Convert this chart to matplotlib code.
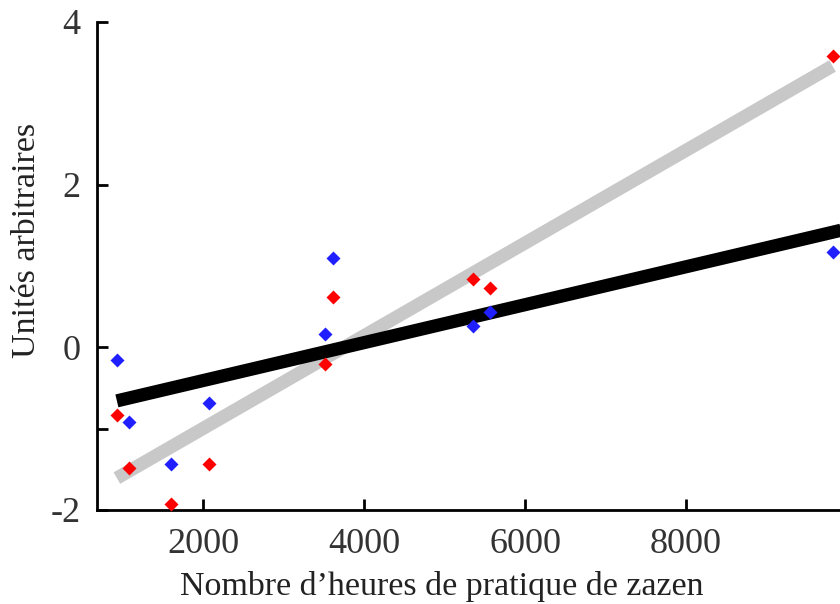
import numpy as np
import matplotlib
matplotlib.use("Agg")
import matplotlib.pyplot as plt

# hours of zazen practice for each subject
hours = [930, 1080, 1600, 2080, 3510, 3620, 5360, 5560, 9820]
# two measures, arbitrary units
blue_vals = [-0.15, -0.92, -1.43, -0.68, 0.16, 1.10, 0.26, 0.44, 1.17]
red_vals = [-0.83, -1.48, -1.93, -1.43, -0.21, 0.62, 0.84, 0.73, 3.58]

x_ticks = [2000, 4000, 6000, 8000]
y_ticks = [-2, -1, 0, 2, 4]
y_tick_labels = ["-2", "", "0", "2", "4"]

plt.rcParams['font.family'] = ['Liberation Serif', 'DejaVu Serif']

x = np.array(hours, dtype=float)
yb = np.array(blue_vals)
yr = np.array(red_vals)

fig = plt.figure(figsize=(8.4, 6.04), dpi=100)
ax = fig.add_axes([97 / 840, 1 - 510 / 604, 1 - 97 / 840, (510 - 22) / 604])

ax.set_xlim(683, 9913)
ax.set_ylim(-2, 4)

# regression lines
xmax_axis = ax.get_xlim()[1]
kb, cb = np.polyfit(x, yb, 1)
kr, cr = np.polyfit(x, yr, 1)
xl_b = np.array([x.min(), xmax_axis + 200])
xl_r = np.array([x.min(), x.max()])
ax.plot(xl_r, kr * xl_r + cr, color='#c8c8c8', lw=9.5, solid_capstyle='butt', zorder=2)
ax.plot(xl_b, kb * xl_b + cb, color='black', lw=9.5, solid_capstyle='butt', zorder=3)

ax.plot(x, yb, 'D', color='#1f1fff', ms=7.5, mec='none', zorder=5, clip_on=False)
ax.plot(x, yr, 'D', color='#ff0000', ms=7.5, mec='none', zorder=5, clip_on=False)

for side in ['top', 'right']:
    ax.spines[side].set_visible(False)
for side in ['left', 'bottom']:
    ax.spines[side].set_linewidth(2)
    ax.spines[side].set_color('black')

ax.set_xticks(x_ticks)
ax.set_xticklabels([str(t) for t in x_ticks])
ax.set_yticks(y_ticks)
ax.set_yticklabels(y_tick_labels)
ax.tick_params(axis='both', direction='in', length=8, width=2, colors='black',
               labelcolor='#333333', labelsize=26)
ax.tick_params(axis='x', pad=13)
ax.tick_params(axis='y', pad=12)

ax.set_xlabel("Nombre d\u2019heures de pratique de zazen", fontsize=24.5, color='#222222')
ax.set_ylabel("Unit\u00e9s arbitraires", fontsize=24.5, color='#222222')
ax.xaxis.set_label_coords((442 - 97) / (840 - 97), -(587 - 510) / (510 - 22), transform=ax.transAxes)
ax.xaxis.label.set_va('center')
ax.yaxis.set_label_coords(-(97 - 27) / (840 - 97), (510 - 240) / (510 - 22), transform=ax.transAxes)
ax.yaxis.label.set_va('center')

fig.savefig("out.png", dpi=100)
